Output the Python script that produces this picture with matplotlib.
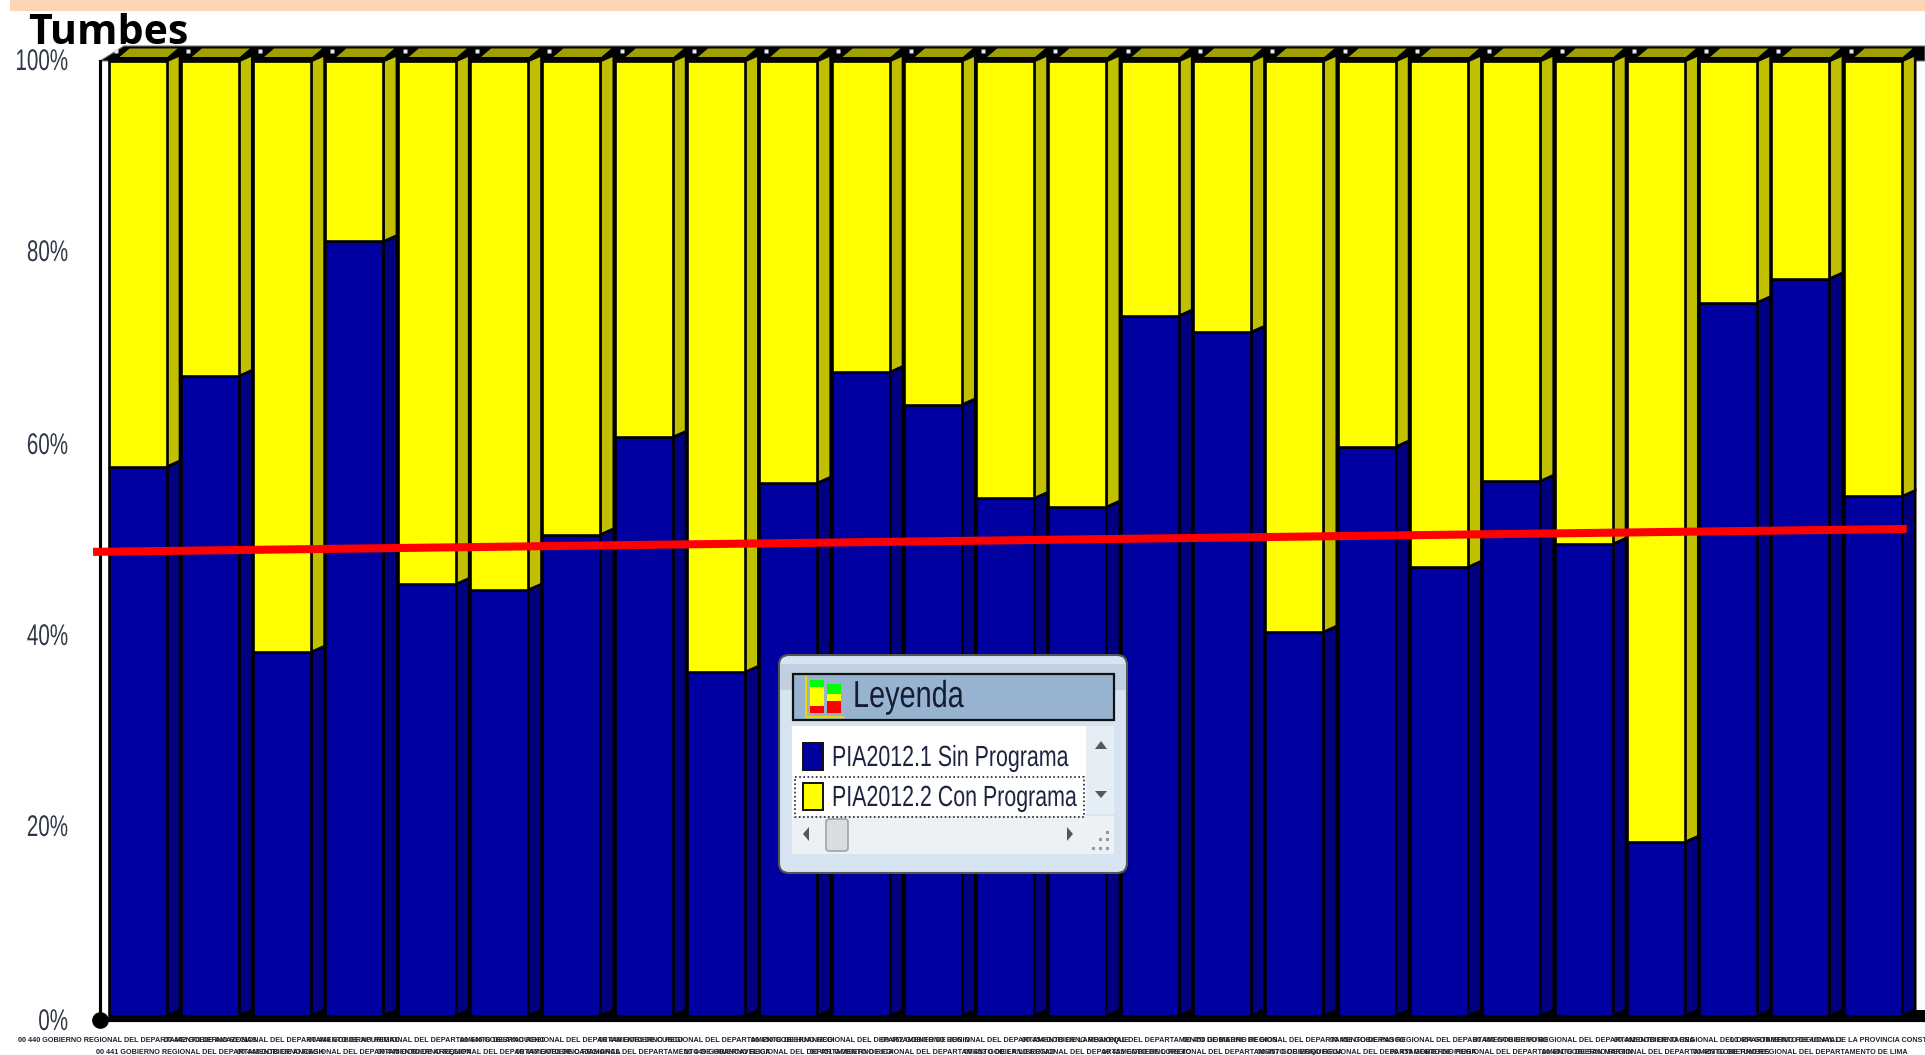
import matplotlib
matplotlib.use("Agg")
import matplotlib.pyplot as plt
import matplotlib.patheffects as pe
from matplotlib.transforms import Affine2D
from matplotlib.patches import Polygon, Rectangle, FancyBboxPatch

W, H = 1925, 1055
FONT = "Liberation Sans"

departments = ["DEPARTAMENTO DE AMAZONAS", "DEPARTAMENTO DE ANCASH", "DEPARTAMENTO DE APURIMAC",
               "DEPARTAMENTO DE AREQUIPA", "DEPARTAMENTO DE AYACUCHO", "DEPARTAMENTO DE CAJAMARCA",
               "DEPARTAMENTO DE CUSCO", "DEPARTAMENTO DE HUANCAVELICA", "DEPARTAMENTO DE HUANUCO",
               "DEPARTAMENTO DE ICA", "DEPARTAMENTO DE JUNIN", "DEPARTAMENTO DE LA LIBERTAD",
               "DEPARTAMENTO DE LAMBAYEQUE", "DEPARTAMENTO DE LORETO", "DEPARTAMENTO DE MADRE DE DIOS",
               "DEPARTAMENTO DE MOQUEGUA", "DEPARTAMENTO DE PASCO", "DEPARTAMENTO DE PIURA",
               "DEPARTAMENTO DE PUNO", "DEPARTAMENTO DE SAN MARTIN", "DEPARTAMENTO DE TACNA",
               "DEPARTAMENTO DE TUMBES", "DEPARTAMENTO DE UCAYALI", "DEPARTAMENTO DE LIMA",
               "PROVINCIA CONSTITUCIONAL DEL CALLAO"]
codes = list(range(440, 465))
sin_programa = [57.5, 67.0, 38.1, 81.1, 45.2, 44.6, 50.4, 60.6, 36.0, 55.8, 67.4, 64.0, 54.2,
                53.3, 73.3, 71.6, 40.2, 59.6, 47.0, 56.0, 49.4, 18.2, 74.7, 77.2, 54.4]
con_programa = [42.5, 33.0, 61.9, 18.9, 54.8, 55.4, 49.6, 39.4, 64.0, 44.2, 32.6, 36.0, 45.8,
                46.7, 26.7, 28.4, 59.8, 40.4, 53.0, 44.0, 50.6, 81.8, 25.3, 22.8, 45.6]
trend_x = [-0.615, 24.47]
trend_y = [48.6, 51.0]
y_ticks = [0, 20, 40, 60, 80, 100]
y_labels = ["0%", "20%", "40%", "60%", "80%", "100%"]
y_label_nudge = [-3, 0, 0, 0, 2, 2]
series_names = ["PIA2012.1 Sin Programa", "PIA2012.2 Con Programa"]

labels = []
for c, d in zip(codes, departments):
    prefix = "DE LA " if d.startswith("PROVINCIA") else "DEL "
    labels.append(f"00 {c} GOBIERNO REGIONAL {prefix}{d}")


class Squeeze(pe.AbstractPathEffect):
    """Draw real text condensed horizontally about a pixel anchor (no narrow font is installed)."""
    def __init__(self, sx, anchor, dy=0):
        super().__init__()
        self.sx, self.anchor, self.dy = sx, anchor, dy

    def draw_path(self, renderer, gc, tpath, affine, rgbFace=None):
        t = affine + Affine2D().translate(-self.anchor, self.dy).scale(self.sx, 1).translate(self.anchor, 0)
        renderer.draw_path(gc, tpath, t, rgbFace)


BLUE, BLUE_S = "#0000A0", "#000080"
YEL, YEL_S, YEL_T = "#FFFF00", "#C0C000", "#A0A000"
PITCH, C0 = 72.3, 137.5
AX_L, AX_B, AX_T = 100, 1020, 61
PX_Y = (AX_B - AX_T) / 100.42
BAR_W = 58 / PITCH
DX, DY = 13.5 / PITCH, 6 / PX_Y
LW = 1.9

fig = plt.figure(figsize=(W / 100, H / 100), dpi=100, facecolor="white")
ax = fig.add_axes([AX_L / W, 1 - AX_B / H, (W - AX_L) / W, (AX_B - AX_T) / H])
ax.set_xlim((AX_L - C0) / PITCH, (W - C0) / PITCH)
ax.set_ylim(-0.42, 100)
ax.patch.set_alpha(0)
for s in ("top", "right"):
    ax.spines[s].set_visible(False)
ax.spines["left"].set_linewidth(2.2)
ax.spines["bottom"].set_linewidth(3.0)

x = list(range(len(sin_programa)))
b1 = ax.bar(x, sin_programa, BAR_W, color=BLUE, edgecolor="black", linewidth=LW, zorder=4)
b2 = ax.bar(x, con_programa, BAR_W, bottom=sin_programa, color=YEL, edgecolor="black", linewidth=LW, zorder=4)
for b in list(b1) + list(b2):
    b.set_clip_on(False)

# back frame of the 3D box
left_x, xmax = ax.get_xlim()
band = 15 / PX_Y
ax.add_patch(Polygon([(left_x, 100), (left_x + 0.33, 100 + band), (xmax, 100 + band), (xmax, 100)],
                     closed=True, fc="black", ec="#777777", lw=0.8, clip_on=False, zorder=1))
ax.plot([left_x, left_x], [100, -0.42], color="black", lw=2.2, clip_on=False, zorder=2)
ax.plot([left_x], [-0.42], marker="o", ms=11, color="black", clip_on=False, zorder=7)
# floor of the box, dark under the slanted foot of each side face
ax.add_patch(Rectangle((-BAR_W / 2, -0.42), xmax + BAR_W / 2, DY + 0.42, fc="black", ec="none",
                       clip_on=False, zorder=1))

for i, (a, c) in enumerate(zip(sin_programa, con_programa)):
    xr = i + BAR_W / 2
    xl = i - BAR_W / 2
    top = a + c
    ax.add_patch(Polygon([(xr, 0), (xr + DX, DY), (xr + DX, a + DY), (xr, a)], closed=True,
                         fc=BLUE_S, ec="black", lw=LW, clip_on=False, zorder=3))
    ax.add_patch(Polygon([(xr, a), (xr + DX, a + DY), (xr + DX, top + DY), (xr, top)], closed=True,
                         fc=YEL_S, ec="black", lw=LW, clip_on=False, zorder=3))
    # top face: inset from the front edge, with black around it
    f0, f1 = 4 / PX_Y, 12.5 / PX_Y
    fx0, fx1 = xl + 11 / PITCH, xr + 1 / PITCH
    ax.add_patch(Polygon([(fx0, top + f0), (fx0 + 10 / PITCH, top + f1), (fx1 + 10 / PITCH, top + f1),
                          (fx1, top + f0)], closed=True, fc=YEL_T, ec="none", clip_on=False, zorder=2.5))
    ax.plot([xl + 7 / PITCH], [top + 10 / PX_Y], marker="s", ms=2.6, mfc="#E8E8E8", mec="none",
            clip_on=False, zorder=2.6)

ax.plot(trend_x, trend_y, color="#FF0000", lw=5.8, solid_capstyle="butt", clip_on=False, zorder=6)

ax.set_yticks(y_ticks, y_labels, fontsize=21.5, color="#303848", family=FONT)
ax.tick_params(axis="y", length=0, pad=23)
for t, n in zip(ax.get_yticklabels(), y_label_nudge):
    t.set_path_effects([Squeeze(0.69, 68, dy=n)])

ax.set_xticks(x[0::2], labels[0::2], fontsize=5.2, fontweight="bold", color="#202030", family=FONT)
ax.set_xticks(x[1::2], labels[1::2], minor=True, fontsize=5.2, fontweight="bold", color="#202030", family=FONT)
ax.tick_params(axis="x", which="major", length=0, pad=12)
ax.tick_params(axis="x", which="minor", length=0, pad=21)

# pixel-space overlay: banner, title, legend widget
ov = fig.add_axes([0, 0, 1, 1], zorder=10)
ov.set_xlim(0, W)
ov.set_ylim(H, 0)
ov.axis("off")
ov.patch.set_alpha(0)
ov.add_patch(Rectangle((10, 0), W - 10, 11, fc="#FFD5B5", ec="none"))
ov.text(28, 33, "Tumbes", fontsize=29.6, fontweight="bold", family="Open Sans", color="black", va="center", ha="left")

ov.add_patch(FancyBboxPatch((786, 662), 334, 204, boxstyle="round,pad=7,rounding_size=10",
                            fc="#D6E4F2", ec="#555555", lw=1.5, zorder=1))
ov.add_patch(Rectangle((780, 664), 346, 26, fc="#C0D0E0", ec="none", zorder=1.1))
ov.add_patch(Rectangle((793, 674), 321, 46, fc="#98B3D0", ec="#111111", lw=1.6, zorder=2))
ov.add_patch(Rectangle((792, 726), 294, 90, fc="white", ec="none", zorder=2))
ov.add_patch(Rectangle((1086, 726), 28, 88, fc="#E6EEF5", ec="none", zorder=2))
ov.add_patch(Rectangle((792, 816), 322, 38, fc="#EEF1F4", ec="none", zorder=2))
# chart icon
ov.plot([806, 806, 843], [677, 717, 717], color="#E8D800", lw=1.6, zorder=3)
for x0, w, segs in [(810, 14, [(680, 687, "#00FF00"), (687, 706, "#FFFF00"), (706, 713, "#FF0000")]),
                    (827, 14, [(684, 694, "#00FF00"), (694, 701, "#FFFF00"), (701, 713, "#FF0000")])]:
    for y0, y1, col in segs:
        ov.add_patch(Rectangle((x0, y0), w, y1 - y0, fc=col, ec="none", zorder=3))
ov.text(853, 697, "Leyenda", fontsize=27, family=FONT, color="#141c30", va="center", ha="left", zorder=4,
        path_effects=[Squeeze(0.77, 853)])
# series rows
for yc, name, col in zip([756, 796], series_names, [BLUE, YEL]):
    ov.add_patch(Rectangle((803, yc - 13), 20, 27, fc=col, ec="#111111", lw=1.4, zorder=4))
    ov.text(832, yc + 2, name, fontsize=21, family=FONT, color="#1c2440", va="center", ha="left", zorder=4,
            path_effects=[Squeeze(0.733, 832)])
ov.add_patch(Rectangle((795, 777), 289, 40, fc="none", ec="#222222", lw=1.2, ls=(0, (1, 1.5)), zorder=4))
# scrollbars
ov.add_patch(Polygon([(1101, 741), (1095, 749), (1107, 749)], closed=True, fc="#505860", ec="none", zorder=4))
ov.add_patch(Polygon([(1095, 791), (1107, 791), (1101, 798)], closed=True, fc="#505860", ec="none", zorder=4))
ov.add_patch(Polygon([(803, 834), (809, 827), (809, 841)], closed=True, fc="#505860", ec="none", zorder=4))
ov.add_patch(Polygon([(1067, 827), (1073, 834), (1067, 841)], closed=True, fc="#505860", ec="none", zorder=4))
ov.add_patch(FancyBboxPatch((827, 820), 20, 30, boxstyle="round,pad=1,rounding_size=3",
                            fc="#DADDE0", ec="#A0A4A8", lw=1.2, zorder=4))
ov.plot([1107, 1100, 1107, 1093, 1100, 1107], [832, 839, 839, 848, 848, 848], ls="none", marker="s", ms=1.3,
        color="#9098A0", zorder=4)

fig.savefig("out.png", dpi=100)
